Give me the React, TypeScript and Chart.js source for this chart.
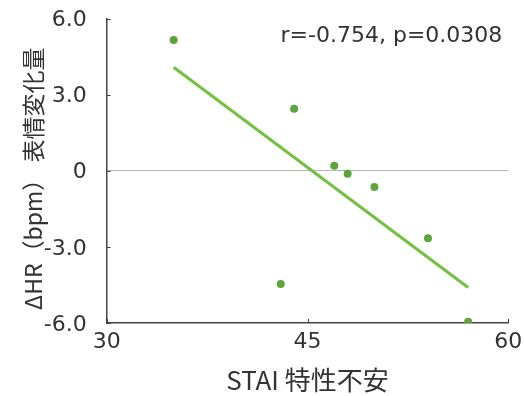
import React, { useEffect, useRef } from "react";
import { Chart, registerables } from "chart.js";

Chart.register(...registerables);

// ---- data ----
const stai = [35, 44, 47, 48, 50, 54, 43, 57];
const deltaHR = [5.15, 2.44, 0.2, -0.12, -0.64, -2.66, -4.46, -5.95];
const fitX = [35, 57];
const fitY = [4.08, -4.6];
const xTicks = [30, 45, 60];
const yTicks = [-6, -3, 0, 3, 6];
const xTitle = "STAI 特性不安";
const yTitle = "ΔHR（bpm） 表情変化量";
const statText = "r=-0.754, p=0.0308";

const LATIN = "'DejaVu Sans', 'Noto Sans CJK JP', sans-serif";
const CJK = "'Noto Sans CJK JP', sans-serif";
const TEXT = "#333333";
const AXIS = "#444444";
const POINT = "#5ca53b";
const LINE = "#74c040";

const extras = {
  id: "extras",
  afterDraw(chart: any) {
    const { ctx, chartArea, scales } = chart;
    ctx.save();
    ctx.strokeStyle = AXIS;
    ctx.lineWidth = 1;
    scales.x.ticks.forEach((t: any) => {
      const px = Math.round(scales.x.getPixelForValue(t.value)) + 0.5;
      ctx.beginPath();
      ctx.moveTo(px, chartArea.bottom);
      ctx.lineTo(px, chartArea.bottom - 4);
      ctx.stroke();
    });
    scales.y.ticks.forEach((t: any) => {
      const py = Math.round(scales.y.getPixelForValue(t.value)) + 0.5;
      ctx.beginPath();
      ctx.moveTo(chartArea.left, py);
      ctx.lineTo(chartArea.left + 4, py);
      ctx.stroke();
    });
    // statistics annotation
    ctx.fillStyle = TEXT;
    ctx.font = `22px ${LATIN}`;
    ctx.textAlign = "right";
    ctx.textBaseline = "middle";
    ctx.fillText(statText, chartArea.right - 6, chartArea.top + 18);
    // y-axis title (rotated)
    ctx.font = `23px ${CJK}`;
    ctx.textAlign = "center";
    ctx.translate(33.5, (chartArea.top + chartArea.bottom) / 2 + 8);
    ctx.rotate(-Math.PI / 2);
    ctx.fillText(yTitle, 0, 0);
    ctx.restore();
  },
};

export default function App() {
  const ref = useRef<HTMLCanvasElement>(null);
  useEffect(() => {
    document.body.style.margin = "0";
    const chart = new Chart(ref.current!, {
      type: "scatter",
      data: {
        datasets: [
          {
            type: "line",
            data: fitX.map((x, i) => ({ x, y: fitY[i] })),
            borderColor: LINE,
            borderWidth: 3,
            pointRadius: 0,
            fill: false,
          } as any,
          {
            data: stai.map((x, i) => ({ x, y: deltaHR[i] })),
            backgroundColor: POINT,
            borderColor: POINT,
            pointRadius: 4,
            borderWidth: 0,
          },
        ],
      },
      plugins: [extras],
      options: {
        responsive: false,
        animation: false,
        layout: { padding: { top: 18.5, right: 15.7, left: 0, bottom: 0 } },
        plugins: { legend: { display: false }, tooltip: { enabled: false } },
        scales: {
          x: {
            type: "linear",
            min: 30,
            max: 60,
            afterBuildTicks: (s: any) => {
              s.ticks = xTicks.map((v) => ({ value: v }));
            },
            afterFit: (s: any) => {
              s.height = 73;
              s.paddingLeft = 0;
              s.paddingRight = 0;
            },
            ticks: {
              color: TEXT,
              font: { family: LATIN, size: 22 },
              padding: 6,
              maxRotation: 0,
            },
            grid: { drawOnChartArea: false, drawTicks: false },
            border: { display: true, color: AXIS, width: 1.5 },
            title: {
              display: true,
              text: xTitle,
              color: TEXT,
              font: { family: CJK, size: 26 },
              padding: { top: 0, bottom: 0 },
            },
          },
          y: {
            type: "linear",
            min: -6,
            max: 6,
            afterBuildTicks: (s: any) => {
              s.ticks = yTicks.map((v) => ({ value: v }));
            },
            afterFit: (s: any) => {
              s.width = 106.7;
              s.paddingTop = 0;
              s.paddingBottom = 0;
            },
            ticks: {
              color: TEXT,
              font: { family: LATIN, size: 22 },
              padding: 20,
              labelOffset: 2,
              callback: (v: any) => (Number(v) === 0 ? "0" : Number(v).toFixed(1)),
            },
            grid: {
              drawTicks: false,
              color: (c: any) => (c.tick && c.tick.value === 0 ? "#b5b5b5" : "rgba(0,0,0,0)"),
              lineWidth: 1,
            },
            border: { display: true, color: AXIS, width: 1.5 },
            title: { display: false },
          },
        },
      },
    });
    return () => chart.destroy();
  }, []);
  return (
    <div style={{ position: "absolute", left: 0, top: 0, width: 524, height: 396, background: "#fff" }}>
      <canvas ref={ref} width={524} height={396} />
    </div>
  );
}
